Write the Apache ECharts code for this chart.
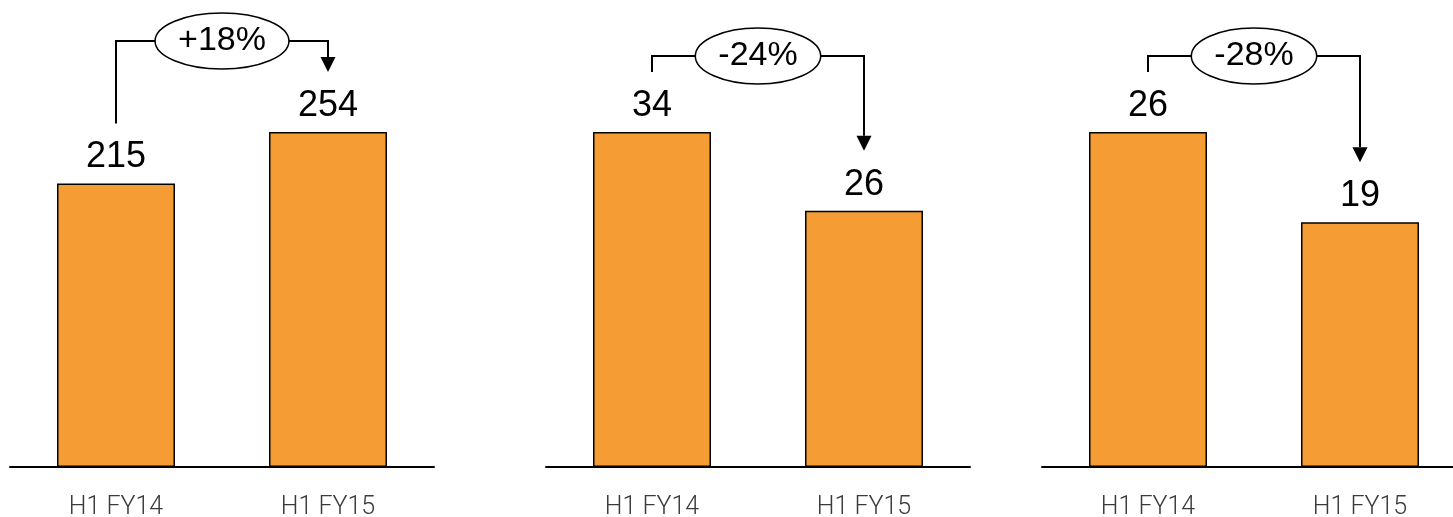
<!DOCTYPE html>
<html>
<head>
<meta charset="utf-8">
<script src="https://cdn.jsdelivr.net/npm/echarts@6/dist/echarts.min.js"></script>
<style>
html,body{margin:0;padding:0;background:#fff;}
#main{width:1453px;height:517px;}
</style>
</head>
<body>
<div id="main"></div>
<script>
// ---- data ----
var categories = ['H1 FY14', 'H1 FY15'];
var panel1Values = [215, 254];
var panel2Values = [34, 26];
var panel3Values = [26, 19];
var changeLabels = ['+18%', '-24%', '-28%'];

var panels = [panel1Values, panel2Values, panel3Values];

// ---- layout / style ----
var gridLefts = [10, 546, 1042];
var BAR_COLOR = '#F59C34';
var FONT = "'Liberation Sans', Arial, sans-serif";

var measureCtx = document.createElement('canvas').getContext('2d');
function textWidth(t, font) { measureCtx.font = font; return measureCtx.measureText(t).width; }

var chart = echarts.init(document.getElementById('main'));

var grids = [], xAxes = [], yAxes = [], series = [];
panels.forEach(function (vals, i) {
  grids.push({ left: gridLefts[i], width: 424, top: 132, bottom: 50, containLabel: false, outerBoundsMode: 'none' });
  xAxes.push({
    type: 'category', gridIndex: i, data: categories,
    axisLine: { lineStyle: { color: '#000', width: 2 } },
    axisTick: { show: false },
    axisLabel: { fontSize: 25, color: '#3a3a3a', fontFamily: 'Roboto', fontWeight: 300, margin: 28 }
  });
  yAxes.push({
    type: 'value', gridIndex: i, show: false, min: 0,
    max: function (v) { return v.max; },
    splitLine: { show: false }
  });
  series.push({
    type: 'bar', xAxisIndex: i, yAxisIndex: i, data: vals, barWidth: 118,
    itemStyle: { color: BAR_COLOR, borderColor: '#000', borderWidth: 1.5 },
    label: { show: true, position: 'top', distance: 8, fontSize: 36, color: '#000', fontFamily: FONT },
    animation: false
  });
  series.push({
    type: 'custom', xAxisIndex: i, yAxisIndex: i, data: [[0, 0]], clip: false, silent: true,
    animation: false, z: 5,
    renderItem: function (params, api) {
      var p1 = api.coord([0, vals[0]]);
      var p2 = api.coord([1, vals[1]]);
      var yL = p1[1] - 60;
      var yR = p2[1] - 60;
      var bracketY = (yR < yL) ? yR - 31 : yL - 16;
      var cx = (p1[0] + p2[0]) / 2;
      var txt = changeLabels[i];
      var font = '34px ' + FONT;
      var rx = textWidth(txt, font) / 2 + 23;
      var lineStyle = { stroke: '#000', lineWidth: 2, fill: null };
      return {
        type: 'group',
        children: [
          { type: 'polyline', shape: { points: [[p1[0], yL], [p1[0], bracketY], [p2[0], bracketY], [p2[0], yR - 15]] }, style: lineStyle },
          { type: 'polygon', shape: { points: [[p2[0] - 7.5, yR - 15], [p2[0] + 7.5, yR - 15], [p2[0], yR]] }, style: { fill: '#000' } },
          { type: 'ellipse', shape: { cx: cx, cy: bracketY, rx: rx, ry: 28 }, style: { fill: '#fff', stroke: '#000', lineWidth: 1.5 } },
          { type: 'text', x: cx, y: bracketY, style: { text: txt, font: font, fill: '#000', align: 'center', verticalAlign: 'middle' } }
        ]
      };
    }
  });
});

chart.setOption({
  backgroundColor: '#fff',
  animation: false,
  grid: grids, xAxis: xAxes, yAxis: yAxes, series: series
});
</script>
</body>
</html>
